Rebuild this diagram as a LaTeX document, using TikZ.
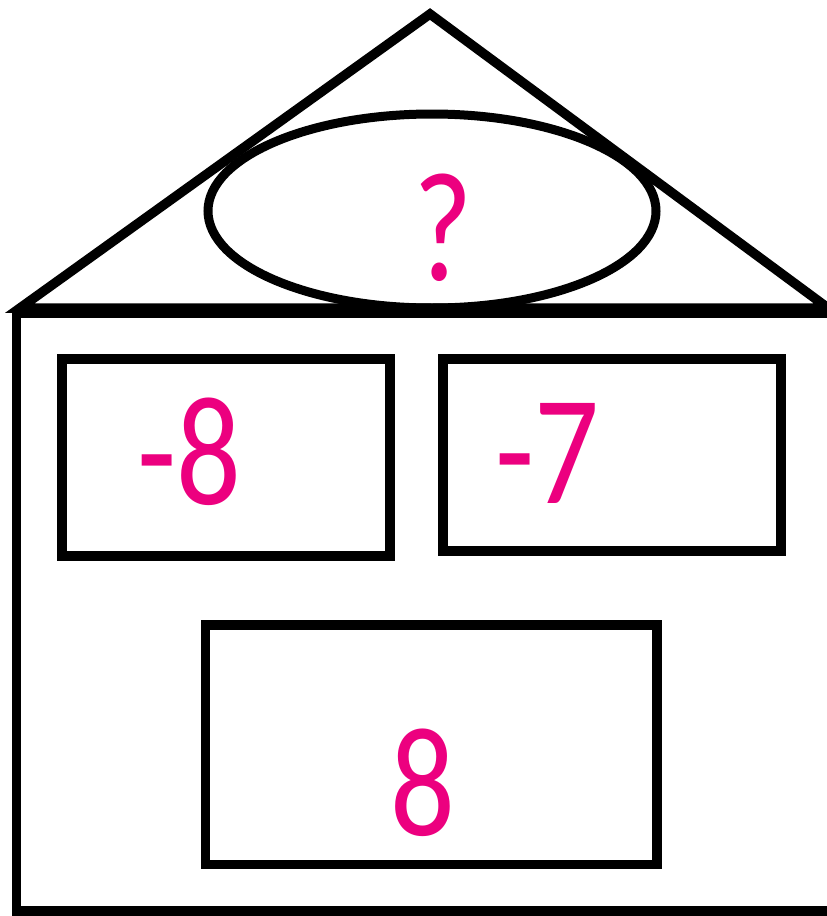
\documentclass[tikz,border=0pt]{standalone}
\usepackage{fontspec}
\newfontfamily\lblfont[FakeStretch=0.82]{Carlito}
\definecolor{pinklbl}{RGB}{236,0,127}
\begin{document}
\begin{tikzpicture}[x=1pt,y=-1pt,
  outline/.style={draw=black,line width=9.5pt,line join=miter},
  lbl/.style={text=pinklbl,font=\lblfont\fontsize{156}{160}\selectfont,inner sep=0pt,anchor=base}]
\useasboundingbox (0,0) rectangle (827,916);
% roof
\coordinate (apex) at (430,14);
\coordinate (roofL) at (20,308);
\coordinate (roofR) at (828,308);
\draw[outline] (roofL) -- (apex) -- (roofR) -- cycle;
% house body
\draw[outline] (16.5,313) rectangle (832,911);
% ellipse
\draw[outline,line width=9pt] (432,211) ellipse [x radius=224, y radius=97];
% boxes
\draw[outline] (62,359) rectangle (390,556);
\draw[outline] (443,359) rectangle (781,551);
\draw[outline] (205.5,625) rectangle (657,864.5);
% labels
\node[lbl] (q) at (443,280) {?};
\node[lbl] (m8) at (189,504) {-8};
\node[lbl] (m7) at (547,503) {-7};
\node[lbl] (p8) at (423,835) {8};
\end{tikzpicture}
\end{document}
